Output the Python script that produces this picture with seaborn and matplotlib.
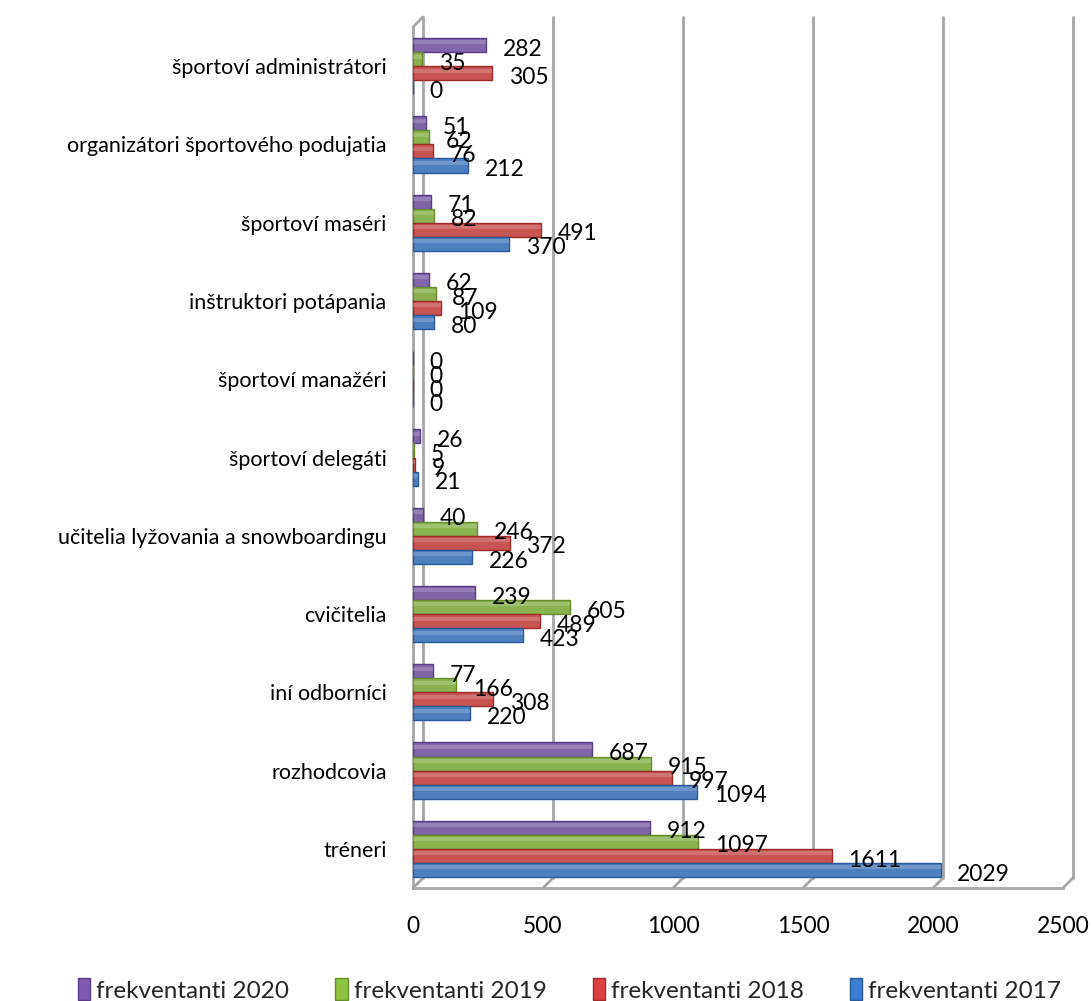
import numpy as np
import pandas as pd
import matplotlib
matplotlib.use("Agg")
import matplotlib.pyplot as plt
import matplotlib.transforms as mtransforms
from matplotlib.patches import Patch
import seaborn as sns

categories = [
    "športoví administrátori",
    "organizátori športového podujatia",
    "športoví maséri",
    "inštruktori potápania",
    "športoví manažéri",
    "športoví delegáti",
    "učitelia lyžovania a snowboardingu",
    "cvičitelia",
    "iní odborníci",
    "rozhodcovia",
    "tréneri",
]
series_names = ["frekventanti 2020", "frekventanti 2019", "frekventanti 2018", "frekventanti 2017"]
v2020 = [282, 51, 71, 62, 0, 26, 40, 239, 77, 687, 912]
v2019 = [35, 62, 82, 87, 0, 5, 246, 605, 166, 915, 1097]
v2018 = [305, 76, 491, 109, 0, 9, 372, 489, 308, 997, 1611]
v2017 = [0, 212, 370, 80, 0, 21, 226, 423, 220, 1094, 2029]
x_ticks = [0, 500, 1000, 1500, 2000, 2500]

colors = ["#7E5AB4", "#8DC43F", "#DB4141", "#3B7ED2"]
edges = ["#5A3C86", "#668F2B", "#A02A2A", "#285A9C"]

rows = []
for name, vals in zip(series_names, [v2020, v2019, v2018, v2017]):
    for c, v in zip(categories, vals):
        rows.append({"kategória": c, "séria": name, "hodnota": v})
df = pd.DataFrame(rows)

sns.set_theme(style="white")
plt.rcParams["font.family"] = ["Lato", "DejaVu Sans"]

W, H = 1091, 1001
fig = plt.figure(figsize=(W / 100, H / 100), dpi=100)
L, R, T, B = 413, 1063, 27, 888
ax = fig.add_axes([L / W, 1 - B / H, (R - L) / W, (B - T) / H])

sns.barplot(data=df, y="kategória", x="hodnota", hue="séria",
            order=categories, hue_order=series_names, palette=colors,
            orient="h", width=0.72, ax=ax, legend=False, errorbar=None)

for cont, ec in zip(ax.containers, edges):
    for p in cont:
        p.set_edgecolor(ec)
        p.set_linewidth(1.0)
        p.set_zorder(3)
        x0, y0 = p.get_x(), p.get_y()
        w, h = p.get_width(), p.get_height()
        if w > 0:
            ax.add_patch(plt.Rectangle((x0, y0 + h * 0.18), w, h * 0.28,
                                       facecolor="white", alpha=0.18,
                                       edgecolor="none", zorder=4))

ax.set_xlim(0, 2500)
ax.set_ylim(len(categories) - 0.5, -0.5)
ax.set_xticks(x_ticks)
ax.set_xticklabels([str(t) for t in x_ticks])
ax.set_xlabel("")
ax.set_ylabel("")
ax.tick_params(axis="x", length=0, pad=20, labelsize=16.5, labelcolor="black")
ax.tick_params(axis="y", which="major", length=0, pad=19, labelsize=15.5, labelcolor="black")
ax.set_yticks(np.arange(len(categories) + 1) - 0.5, minor=True)
ax.tick_params(axis="y", which="minor", length=7, width=1.5, color="#A6A6A6")

for s in ["top", "right"]:
    ax.spines[s].set_visible(False)
for s in ["left", "bottom"]:
    ax.spines[s].set_color("#A6A6A6")
    ax.spines[s].set_linewidth(2)

# 3D-like back wall gridlines
dx_px, dy_px = 10, 10
off = mtransforms.ScaledTranslation(dx_px / 100, dy_px / 100, fig.dpi_scale_trans)
trans_back = ax.get_xaxis_transform() + off
dx_data = dx_px / (R - L) * 2500
dy_ax = dy_px / (B - T)
for t in x_ticks:
    ax.plot([t, t], [0, 1], transform=trans_back, color="#A6A6A6", lw=2,
            zorder=1, clip_on=False)
    ax.plot([t, t + dx_data], [0, dy_ax], transform=ax.get_xaxis_transform(),
            color="#A6A6A6", lw=2, zorder=1, clip_on=False)
ax.plot([0, dx_data], [1, 1 + dy_ax], transform=ax.get_xaxis_transform(),
        color="#A6A6A6", lw=2, zorder=1, clip_on=False)

# data labels
for cont in ax.containers:
    for p in cont:
        val = p.get_width()
        ax.annotate(f"{val:.0f}", (p.get_x() + p.get_width(), p.get_y() + p.get_height() / 2),
                    xytext=(12, -3), textcoords="offset points",
                    ha="left", va="center", fontsize=16.5, color="black", zorder=5)

handles = [Patch(facecolor=c, edgecolor=e, label=n) for c, e, n in zip(colors, edges, series_names)]
fig.legend(handles=handles, loc="center", bbox_to_anchor=(0.522, 1 - 990 / H), ncol=4,
           frameon=False, fontsize=17.5, handlelength=0.5, handleheight=1.0,
           handletextpad=0.25, columnspacing=1.9)

fig.savefig("out.png", dpi=100)
